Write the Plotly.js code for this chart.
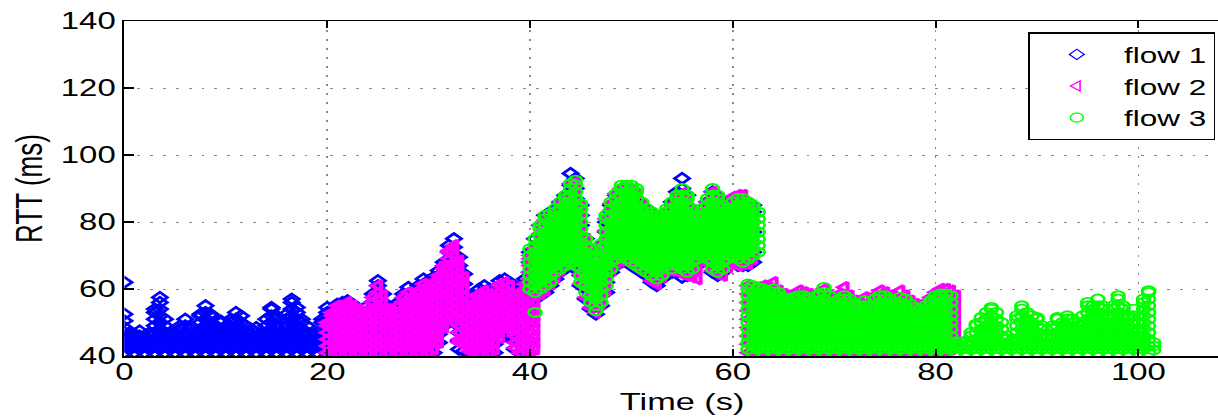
<!DOCTYPE html>
<html>
<head>
<meta charset="utf-8">
<script src="https://cdn.plot.ly/plotly-3.0.1.min.js"></script>
<style>
html,body{margin:0;padding:0;width:1218px;height:419px;overflow:hidden;background:#fff}
#frame{width:1218px;height:419px;overflow:hidden;position:relative}
#chart{width:868px;height:419px;position:absolute;left:0;top:0;transform:scaleX(1.43);transform-origin:0 0}
</style>
</head>
<body>
<div id="frame"><div id="chart"></div></div>
<script>
// ---- tick labels / names ----
const xTickVals = [0, 20, 40, 60, 80, 100];
const yTickVals = [40, 60, 80, 100, 120, 140];
const flowNames = ['flow 1', 'flow 2', 'flow 3'];

// ---- flow 1 : RTT samples (ms) per time (s) ----
const f1_t = [0,0.5,1,1.5,2,2.5,3,3.5,4,4.5,5,5.5,6,6.5,7,7.5,8,8.5,9,9.5,10,10.5,11,11.5,12,12.5,13,13.5,14,14.5,15,15.5,16,16.5,17,17.5,18,18.5,19,19.5,20,
20.5,21,21.5,22,22.5,23,23.5,24,24.5,25,25.5,26,26.5,27,27.5,28,28.5,29,29.5,30,30.5,31,31.5,32,32.5,33,33.5,34,34.5,35,35.5,36,36.5,37,37.5,38,38.5,39,39.5,40,
40.5,41,41.5,42,42.5,43,43.5,44,44.5,45,45.5,46,46.5,47,47.5,48,48.5,49,49.5,50,50.5,51,51.5,52,52.5,53,53.5,54,54.5,55,55.5,56,56.5,57,57.5,58,58.5,59,59.5,60,60.5,61,61.5,62];
const f1_rtt = [
[41,43,45,47,48.5,50.5,52.5,62],[42,44,46,47],[41,43,45,46.5],[42,44,46,47.5],[41,43,45,46],[42,44,46,47],
[41,43,45,47,49,51,53,54],[42,44,46,48,50,52,54,56,57.5],[41,43,45,47,49,51],[42,44,46,47],[41,43,45,47],
[42,44,46,48,49],[41,43,45,47,49,51],[42,44,46,48,49],[41,43,45,47],[42,44,46,48,50,52,52.5],
[41,43,45,47,49,51,53,55],[42,44,46,48,50,52,52.5],[41,43,45,47,49],[42,44,46,48,50,50.5],[41,43,45,47,48],
[42,44,46,48,50,51],[41,43,45,47,49,51,53],[42,44,46,48,50,52],[41,43,45,47,49],[42,44,46,48],
[41,43,45,47,48.5],[42,44,46,46.5],[41,43,45,47,49,51],[42,44,46,48,50,52,54,54.5],[41,43,45,47,49,51,52],
[42,44,46,47],[41,43,45,47,49,51,52.5],[42,44,46,48,50,52,54,56,57],[41,43,45,47,49,51,53,54.5],[42,44,46,48,50,51],
[41,43,45,47,49],[42,44,46,46.5],[41,43,45,47],[42,44,46,48,50,51],[41,43,45,47,49,51,53,54.5],
[41,43.5,46,48.5,51,53.5],[41,43.5,46,48.5,51,53.5,55.5],[41,43.5,46,48.5,51,53.5,56],[41,43.5,46,48.5,51,53.5,56.5],[41,43.5,46,48.5,51,53.5,55.5],
[41,43.5,46,48.5,51,53.5],[41,43.5,46,48.5,51,53],[41,43.5,46,48.5,51,53.5,55],[41,43.5,46,48.5,51,53.5,56,58.5],[41,43.5,46,48.5,51,53.5,56,58.5,61,62.5],
[41,43.5,46,48.5,51,53.5,56,58.5],[41,43.5,46,48.5,51,53.5,55],[41,43.5,46,48.5,51,53.5],[41,43.5,46,48.5,51,53.5,56],[41,43.5,46,48.5,51,53.5,56,58.5],
[41,43.5,46,48.5,51,53.5,56,58.5,60.5],[41,43.5,46,48.5,51,53.5,56,58],[41,43.5,46,48.5,51,53.5,56,58.5,61],[41,43.5,46,48.5,51,53.5,56,58.5,61,63],
[41,43.5,46,48.5,51,53.5,56,58.5,61,62.5],[41,43.5,46,48.5,51,53.5,56,58.5,61,63.5],[44,46.5,49,51.5,54,56.5,59,61.5,64,65.5],[49,51.5,54,56.5,59,61.5,64,66.5,68],
[51,53.5,56,58.5,61,63.5,66,68.5,71,73],[50,52.5,55,57.5,60,62.5,65,67.5,70,72.5,75],[42,44.5,47,49.5,52,54.5,57,59.5,62,64.5,67,69.5],[41.5,44,46.5,49,51.5,54,56.5,59,61.5,64.5],
[41,43.5,46,48.5,51,53.5,56,58],[41,43.5,46,48.5,51,53.5,56],[41,43.5,46,48.5,51,53.5,56,58.5,60],[41,43.5,46,48.5,51,53.5,56,58.5,61],[41,43.5,46,48.5,51,53.5,56,58.5,60],
[41,43.5,46,48.5,51,53.5,56,58.5],[45,47.5,50,52.5,55,57.5,60,62.5],[48,50.5,53,55.5,58,60.5,63],[47,49.5,52,54.5,57,59.5,62],[42,44.5,47,49.5,52,54.5,57,59],
[41,43.5,46,48.5,51,53.5,56,58.5,60],[41,43.5,46,48.5,51,53.5,56,58.5,61,63],[41,44,47,50,53,56,59,62,65,68,71],
[57,60,63,66,69,72,75],[58,61,64,67,70,73,76,79],[59,62,65,68,71,74,77,80,82],[61,64,67,70,73,76,79,82],[63,66,69,72,75,78,81,84],[65,68,71,74,77,80,83,86],
[67,70,73,76,79,82,85,88],[67,70,73,76,79,82,85,88,91,94.5],[66,69,72,75,78,81,84,87,90,93],[61,64,67,70,73,76,79,82,85],[57,60,63,66,69,72,75],[54,57,60,63,66,69,72],
[52.5,55,58,61,64,67,70],[55,58,61,64,67,70,73],[59,62,65,68,71,74,77,80],[65,68,71,74,77,80,83,85],[67,70,73,76,79,82,85,88],[68,71,74,77,80,83,86,89],
[68,71,74,77,80,83,86,89],[67,70,73,76,79,82,85,88],[66,69,72,75,78,81,84,87],[65,68,71,74,77,80,83,85],[64,67,70,73,76,79,82],[62,65,68,71,74,77,80,83],
[61,64,67,70,73,76,79,81],[63,66,69,72,75,78,81],[65,68,71,74,77,80,83],[65,68,71,74,77,80,83,86],[65,68,71,74,77,80,83,86,89],[63.5,66,69,72,75,78,81,84,87,90,93],
[64,67,70,73,76,79,82,85,88],[65,68,71,74,77,80,83],[67,70,73,76,79,82],[69,72,75,78,81,84],[68,71,74,77,80,83,86],[65,68,71,74,77,80,83,86,89],
[64,67,70,73,76,79,82,85,87],[65,68,71,74,77,80,83,85],[67,70,73,76,79,82,84],[68,71,74,77,80,83,86],[67,70,73,76,79,82,85],[67,70,73,76,79,82,85,87],
[67,70,73,76,79,82,85],[68,71,74,77,80,83,85]
];

// ---- flow 2 ----
const f2_t = [20,20.5,21,21.5,22,22.5,23,23.5,24,24.5,25,25.5,26,26.5,27,27.5,28,28.5,29,29.5,30,30.5,31,31.5,32,32.5,33,33.5,34,34.5,35,35.5,36,36.5,37,37.5,38,38.5,39,39.5,40,40.5,
41,41.5,42,42.5,43,43.5,44,44.5,45,45.5,46,46.5,47,47.5,48,48.5,49,49.5,50,50.5,51,51.5,52,52.5,53,53.5,54,54.5,55,55.5,56,56.5,57,57.5,58,58.5,59,59.5,60,60.5,61,61.5,62,62.5,
63,63.5,64,64.5,65,65.5,66,66.5,67,67.5,68,68.5,69,69.5,70,70.5,71,71.5,72,72.5,73,73.5,74,74.5,75,75.5,76,76.5,77,77.5,78,78.5,79,79.5,80,80.5,81,81.5,82];
const f2_rtt = [
[41,43,45,47,49,50],[42,44,46,48,50,52,53],[41,43,45,47,49,51,53,55],[42,44,46,48,50,52,54,55],[41,43,45,47,49,51,53,55,56],
[42,44,46,48,50,52,54,55],[41,43,45,47,49,51,53,54],[42,44,46,48,50,52,53],[41,43,45,47,49,51,53,54],
[42,44,46,48,50,52,54,56,57.5],[41,43,45,47,49,51,53,55,57,59,61],[42,44,46,48,50,52,54,56,58],
[41,43,45,47,49,51,53,54],[42,44,46,48,50,52,53],[41,43,45,47,49,51,53,55],[42,44,46,48,50,52,54,56,57.5],
[41,43,45,47,49,51,53,55,57,59],[42,44,46,48,50,52,54,56,57],[41,43,45,47,49,51,53,55,57,59,59.5],
[42,44,46,48,50,52,54,56,58,60,61.5],[41,43,45,47,49,51,53,55,57,59,61],[42,44,46,48,50,52,54,56,58,60,61.5],
[44,45.5,47,49,51,53,55,57,59,61,63,64],[48.5,50,52,54,56,58,60,62,64,66,67],[51,53,55,57,59,61,63,65,67,69,71,71.5],
[50.5,52,54,56,58,60,62,64,66,68,70,72,73],[44,45,47,49,51,53,55,57,59,61,63,65,67,68.5],[43.5,44,46,48,50,52,54,56,58,60,62,63.5],
[41.5,43,45,47,49,51,53,55,57],[41,42,44,46,48,50,52,54,55.5],[41,43,45,47,49,51,53,55,57,58.5],[42,44,46,48,50,52,54,56,58,59.5],
[41,43,45,47,49,51,53,55,57,58.5],[42,44,46,48,50,52,54,56,57.5],[45.5,47,49,51,53,55,57,59,61,61.5],
[48.5,50,52,54,56,58,60,62],[47.5,49,51,53,55,57,59,61],[42.5,44,46,48,50,52,54,56,58],
[41,43,45,47,49,51,53,55,57,58.8],[42,44,46,48,50,52,54,56,58,60,61.5],[41,43,45,47,49,51,53,55,57,59,61,63,65,67,69,70],
[42,44,46,48,50,52,54,56,58,60,62,64,66,68,70,72],
[58.5,61.5,64.5,67.5,70.5,73.5,76.5,79],[59.5,62.5,65.5,68.5,71.5,74.5,77.5,80.5],[61.5,64.5,67.5,70.5,73.5,76.5,79.5,82],[63.5,66.5,69.5,72.5,75.5,78.5,81.5,83],
[65.5,68.5,71.5,74.5,77.5,80.5,83.5,85.5],[67.5,70.5,73.5,76.5,79.5,82.5,85.5,87.5],[67.5,70.5,73.5,76.5,79.5,82.5,85.5,88.5,91.5],
[66.5,69.5,72.5,75.5,78.5,81.5,84.5,87.5,90.5,92],[61.5,64.5,67.5,70.5,73.5,76.5,79.5,82.5,85],[57.5,60.5,63.5,66.5,69.5,72.5,75],[54.5,57.5,60.5,63.5,66.5,69.5,71.5],
[53,56,59,62,65,68,70],[55.5,58.5,61.5,64.5,67.5,70.5,73],[59.5,62.5,65.5,68.5,71.5,74.5,77.5,81],[65.5,68.5,71.5,74.5,77.5,80.5,83.5,85.5],
[67.5,70.5,73.5,76.5,79.5,82.5,85.5,88.5],[68.5,71.5,74.5,77.5,80.5,83.5,86.5,90],[68.5,71.5,74.5,77.5,80.5,83.5,86.5,90],[67.5,70.5,73.5,76.5,79.5,82.5,85.5,89.5],
[66.5,69.5,72.5,75.5,78.5,81.5,84.5,88.5],[65.5,68.5,71.5,74.5,77.5,80.5,83.5,85],[64.5,67.5,70.5,73.5,76.5,79.5,83],[62.5,65.5,68.5,71.5,74.5,77.5,80.5,82],
[61.5,64.5,67.5,70.5,73.5,76.5,79.5,81],[63.5,66.5,69.5,72.5,75.5,78.5,81],[65.5,68.5,71.5,74.5,77.5,80.5,83],[65.5,68.5,71.5,74.5,77.5,80.5,83.5,85],
[65.5,68.5,71.5,74.5,77.5,80.5,83.5,87],[64.5,67.5,70.5,73.5,76.5,79.5,82.5,85.5,88.5],[64,67,70,73,76,79,82,85,87],[63.5,66.5,69.5,72.5,75.5,78.5,81.5,83],
[63,66,69,72,75,78,81],[68.5,71.5,74.5,77.5,80.5,83],[68.5,71.5,74.5,77.5,80.5,83.5,86],[65.5,68.5,71.5,74.5,77.5,80.5,83.5,86.5,89],
[64.5,67.5,70.5,73.5,76.5,79.5,82.5,85.5,87],[64,67,70,73,76,79,82,84.5],[66.5,69.5,72.5,75.5,78.5,81.5,84],[67.5,70.5,73.5,76.5,79.5,82.5,85.5,87.5],
[67,70,73,76,79,82,85,88],[67.5,70.5,73.5,76.5,79.5,82.5,85.5,88],
[41,43.5,46,48.5,51,53.5,56,58.5,61,67.5,70.5,73.5,76.5,79.5,82.5,85.5],[41,43.5,46,48.5,51,53.5,56,58.5,60.5,69,72,75,78,81,84],
[40.8,43,45.2,47.4,49.6,51.8,54,56.2,58.4,60.5],
[41.2,43.5,45.8,48.1,50.4,52.7,55,57.3,59.6,61],[40.9,43.2,45.5,47.8,50.1,52.4,54.7,57,59.3,60.5],[41.1,43.4,45.7,48,50.3,52.6,54.9,57.2,59.5,62],
[41,43.3,45.6,47.9,50.2,52.5,54.8,57.1,59.5],[41.2,43.5,45.8,48.1,50.4,52.7,55,57.3,58.5],[40.8,43.1,45.4,47.7,50,52.3,54.6,56.9,58],
[41.1,43.4,45.7,48,50.3,52.6,54.9,57.2,58.5],[41,43.3,45.6,47.9,50.2,52.5,54.8,57.1,59.5],[41.2,43.5,45.8,48.1,50.4,52.7,55,57.3,59],
[40.9,43.2,45.5,47.8,50.1,52.4,54.7,57,58.5],[41.1,43.4,45.7,48,50.3,52.6,54.9,57.5],[41,43.3,45.6,47.9,50.2,52.5,54.8,57.1,58.5],
[41.2,43.5,45.8,48.1,50.4,52.7,55,57.3,60],[40.8,43.1,45.4,47.7,50,52.3,54.6,56.9,58],[41.1,43.4,45.7,48,50.3,52.6,54.9,57],
[41,43.3,45.6,47.9,50.2,52.5,54.8,57.1,58.5],[41.2,43.5,45.8,48.1,50.4,52.7,55,57.3,60.5],[40.9,43.2,45.5,47.8,50.1,52.4,54.7,57,58],
[41.1,43.4,45.7,48,50.3,52.6,54.9,56.5],[41,43.3,45.6,47.9,50.2,52.5,54.8,56],[41.2,43.5,45.8,48.1,50.4,52.7,55,57.5],[40.8,43.1,45.4,47.7,50,52.3,54.6,56],
[41.1,43.4,45.7,48,50.3,52.6,54.9,58],[41,43.3,45.6,47.9,50.2,52.5,54.8,57.1,59.5],[41.2,43.5,45.8,48.1,50.4,52.7,55,57.3,59],
[40.9,43.2,45.5,47.8,50.1,52.4,54.7,57,58],[41.1,43.4,45.7,48,50.3,52.6,54.9,57],[41,43.3,45.6,47.9,50.2,52.5,54.8,57.1,59.5],
[41.2,43.5,45.8,48.1,50.4,52.7,55,58],[40.8,43.1,45.4,47.7,50,52.3,54.6,56.5],[41.1,43.4,45.7,48,50.3,52.6,55.5],[41,43.3,45.6,47.9,50.2,52.5,55],
[41.2,43.5,45.8,48.1,50.4,52.7,56],[40.9,43.2,45.5,47.8,50.1,52.4,54.7,57.5],[41.1,43.4,45.7,48,50.3,52.6,54.9,57.2,59],
[41,43.3,45.6,47.9,50.2,52.5,54.8,57.1,60],[41.2,43.5,45.8,48.1,50.4,52.7,55,57.3,60],[42,44.3,46.6,48.9,51.2,53.5,55.8,58.1,59.5],
[44,46.5,48.8,51.2,53.6,56,58]
];

// ---- flow 3 ----
const f3_t = [40,40.5,41,41.5,42,42.5,43,43.5,44,44.5,45,45.5,46,46.5,47,47.5,48,48.5,49,49.5,50,50.5,51,51.5,52,52.5,53,53.5,54,54.5,55,55.5,56,56.5,57,57.5,58,58.5,59,59.5,60,60.5,61,
61.5,62,62.5,
63,63.5,64,64.5,65,65.5,66,66.5,67,67.5,68,68.5,69,69.5,70,70.5,71,71.5,72,72.5,73,73.5,74,74.5,75,75.5,76,76.5,77,77.5,78,78.5,79,79.5,80,80.5,81,81.5,
82,82.5,83,83.5,84,84.5,85,85.5,86,86.5,87,87.5,88,88.5,89,89.5,90,90.5,91,91.5,92,92.5,93,93.5,94,94.5,95,95.5,96,96.5,97,97.5,98,98.5,99,99.5,100,100.5,101,101.5];
const f3_rtt = [
[60,62,64,66,68,70,72],[53,59,61,63,65,67,69,71,73,75],[60,62,64,66,68,70,72,74,76,78,79],[61,63,65,67,69,71,73,75,77,79,81,82],
[62,64,66,68,70,72,74,76,78,80,82.5],[65,67,69,71,73,75,77,79,81,83,84],[66,68,70,72,74,76,78,80,82,84,86],[67,69,71,73,75,77,79,81,83,85,87,88],
[68,70,72,74,76,78,80,82,84,86,88,90,91.5],[67,69,71,73,75,77,79,81,83,85,87,89,91,92.5],[62,64,66,68,70,72,74,76,78,80,82,84,85.5],
[59,61,63,65,67,69,71,73,75],[56,58,60,62,64,66,68,70,72],[53.5,55,57,59,61,63,65,67,69,70],[56,58,60,62,64,66,68,70,72,73.5],
[61,63,65,67,69,71,73,75,77,79,81,82],[66,68,70,72,74,76,78,80,82,84,86],[69,71,73,75,77,79,81,83,85,87,88.5],[70,72,74,76,78,80,82,84,86,88,90,91],
[69,71,73,75,77,79,81,83,85,87,89,91],[68,70,72,74,76,78,80,82,84,86,88,90,91],[67,69,71,73,75,77,79,81,83,85,87,89,90],[66,68,70,72,74,76,78,80,82,84,86],
[65,67,69,71,73,75,77,79,81,83,84],[64,66,68,70,72,74,76,78,80,82,83],[63,65,67,69,71,73,75,77,79,81,82],[64,66,68,70,72,74,76,78,80,82],
[67,69,71,73,75,77,79,81,83,84],[66,68,70,72,74,76,78,80,82,84,86],[67,69,71,73,75,77,79,81,83,85,87,88],[66,68,70,72,74,76,78,80,82,84,86,88,90],
[65,67,69,71,73,75,77,79,81,83,85,87,88],[66,68,70,72,74,76,78,80,82,84],[69,71,73,75,77,79,81,82],[70,72,74,76,78,80,82,84],
[69,71,73,75,77,79,81,83,85,87],[66,68,70,72,74,76,78,80,82,84,86,88,90],[65,67,69,71,73,75,77,79,81,83,85,87,88],[66,68,70,72,74,76,78,80,82,84,85],
[69,71,73,75,77,79,81,83,84],[70,72,74,76,78,80,82,84,86],[69,71,73,75,77,79,81,83,85,87],[68,70,72,74,76,78,80,82,84,86,87],
[42,44,46,48,50,52,54,56,58,60,61.5,69,71,73,75,77,79,81,83,85,86],[41,43,45,47,49,51,53,55,57,59,61,70,72,74,76,78,80,82,84,85],
[42,44,46,48,50,52,54,56,58,60,60.5,71,73,75,77,79,81,83],
[41,43,45,47,49,51,53,55,57,59,60],[42,44,46,48,50,52,54,56,58,59.5],[41,43,45,47,49,51,53,55,57,59,60],[42,44,46,48,50,52,54,56,58,59],
[41,43,45,47,49,51,53,55,57,57.5],[42,44,46,48,50,52,54,56,57],[41,43,45,47,49,51,53,55,57,57.5],[42,44,46,48,50,52,54,56,58],
[41,43,45,47,49,51,53,55,57,58],[42,44,46,48,50,52,54,56,57.5],[41,43,45,47,49,51,53,55,56.5],[42,44,46,48,50,52,54,56,58,58.5],
[41,43,45,47,49,51,53,55,57,59,60.5],[42,44,46,48,50,52,54,56,58],[41,43,45,47,49,51,53,55,56],[42,44,46,48,50,52,54,56,57],
[41,43,45,47,49,51,53,55,57,58],[42,44,46,48,50,52,54,56,57],[41,43,45,47,49,51,53,55,55.5],[42,44,46,48,50,52,54,55],
[41,43,45,47,49,51,53,55,56.5],[42,44,46,48,50,52,54,55],[41,43,45,47,49,51,53,55,57],[42,44,46,48,50,52,54,56,58],
[41,43,45,47,49,51,53,55,57,58],[42,44,46,48,50,52,54,56,57],[41,43,45,47,49,51,53,55,56],[42,44,46,48,50,52,54,56,57.5],
[41,43,45,47,49,51,53,55,57],[42,44,46,48,50,52,54,55.5],[41,43,45,47,49,51,53,54.5],[42,44,46,48,50,52,54],
[41,43,45,47,49,51,53,55],[42,44,46,48,50,52,54,56,56.5],[41,43,45,47,49,51,53,55,57,58],[42,44,46,48,50,52,54,56,58,58.5],
[41,43,45,47,49,51,53,55,57,58.5],[42,44,46,48,50,52,54,56,58],
[41,43,44.3],[42,44],[41,43,44.5],[42,44,46,47],[41,43,45,47,49,49.5],[42,44,46,48,50,51.5],[41,43,45,47,49,51,53],
[42,44,46,48,50,52,54,54.5],[41,43,45,47,49,51,53],[42,44,46,48,50],[41,43,45,46],[42,44,44.5],
[41,43,45,47,49,51,52],[42,44,46,48,50,52,54,55],[41,43,45,47,49,51,53],[42,44,46,48,50,52],
[41,43,45,47,49,51,51.5],[42,44,46,48,49],[41,43,45,46],[42,44,46,48,49],[41,43,45,47,49,51,51.5],[42,44,46,48,50],
[41,43,45,47,49,51,52],[42,44,46,48,50,51],[41,43,45,47,49],[42,44,46,48,50,52],[41,43,45,47,49,51,53,55,56],
[42,44,46,48,50,52,54,55],[41,43,45,47,49,51,53,55,57],[42,44,46,48,50,52,54,55],[41,43,45,47,49,51,52],
[42,44,46,48,50,52,54,55],[41,43,45,47,49,51,53,55,57,58],[42,44,46,48,50,52,54,55],[41,43,45,47,49,51,52],
[42,44,46,48,50,52,54],[41,43,45,47],[42,44,46,48,50,52,54,56,57],[41,43,45,47,49,51,53,55,57,59,59.5],
[41.8,43,44]
];

// ---- reshape columns into x/y lists ----
function toXY(ts, cols) {
  const x = [], y = [];
  const n = Math.min(ts.length, cols.length);
  for (let i = 0; i < n; i++) {
    for (const v of cols[i]) { x.push(ts[i]); y.push(v); }
  }
  return {x, y};
}
const d1 = toXY(f1_t, f1_rtt), d2 = toXY(f2_t, f2_rtt), d3 = toXY(f3_t, f3_rtt);

const FONT = 'Liberation Sans, Arial, Helvetica, sans-serif';
const colors = ['#0000ff', '#ff00ff', '#00ff00'];
const symbols = ['diamond-open', 'triangle-left-open', 'circle-open'];
const sizes = [8, 9, 9];
const widths = [2.4, 2.9, 1.9];
const data = [d1, d2, d3];

const traces = [];
data.forEach((d, i) => traces.push({type:'scatter', mode:'markers', name:flowNames[i], x:d.x, y:d.y, showlegend:false,
  marker:{symbol:symbols[i], size:sizes[i], color:colors[i], line:{width:widths[i], color:colors[i]}}}));
// legend keys drawn with thin outlines, as in the original
data.forEach((d, i) => traces.push({type:'scatter', mode:'markers', name:flowNames[i], x:[null], y:[null], showlegend:true,
  marker:{symbol:symbols[i], size:sizes[i], color:colors[i], line:{width:1.1, color:colors[i]}}}));

const axisCommon = {
  showline:true, linecolor:'#000', linewidth:1.5, mirror:'ticks',
  ticks:'inside', ticklen:7, tickwidth:1.3, tickcolor:'#000',
  showgrid:true, gridcolor:'#8a8a8a', gridwidth:1, griddash:'2px,7px',
  zeroline:false, tickfont:{family:FONT, size:23, color:'#000'}, automargin:false
};

const layout = {
  width:868, height:419,
  margin:{l:87, r:1, t:21, b:63},
  paper_bgcolor:'#fff', plot_bgcolor:'#fff',
  showlegend:true,
  xaxis:Object.assign({}, axisCommon, {range:[0,110], tickmode:'array', tickvals:xTickVals, ticktext:xTickVals.map(String),
    ticklabelstandoff:-5,
    title:{text:'Time (s)', font:{family:FONT, size:24, color:'#000'}, standoff:9}}),
  yaxis:Object.assign({}, axisCommon, {range:[40,140], tickmode:'array', tickvals:yTickVals, ticktext:yTickVals.map(String),
    title:{text:'RTT (ms)', font:{family:FONT, size:26, color:'#000'}, standoff:5}}),
  legend:{x:0.978, xanchor:'right', y:0.966, yanchor:'top', bgcolor:'#fff', bordercolor:'#000', borderwidth:1.2,
    font:{family:FONT, size:22, color:'#000'}, itemwidth:56, tracegroupgap:0}
};

Plotly.newPlot('chart', traces, layout, {staticPlot:true, displayModeBar:false});
</script>
</body>
</html>
